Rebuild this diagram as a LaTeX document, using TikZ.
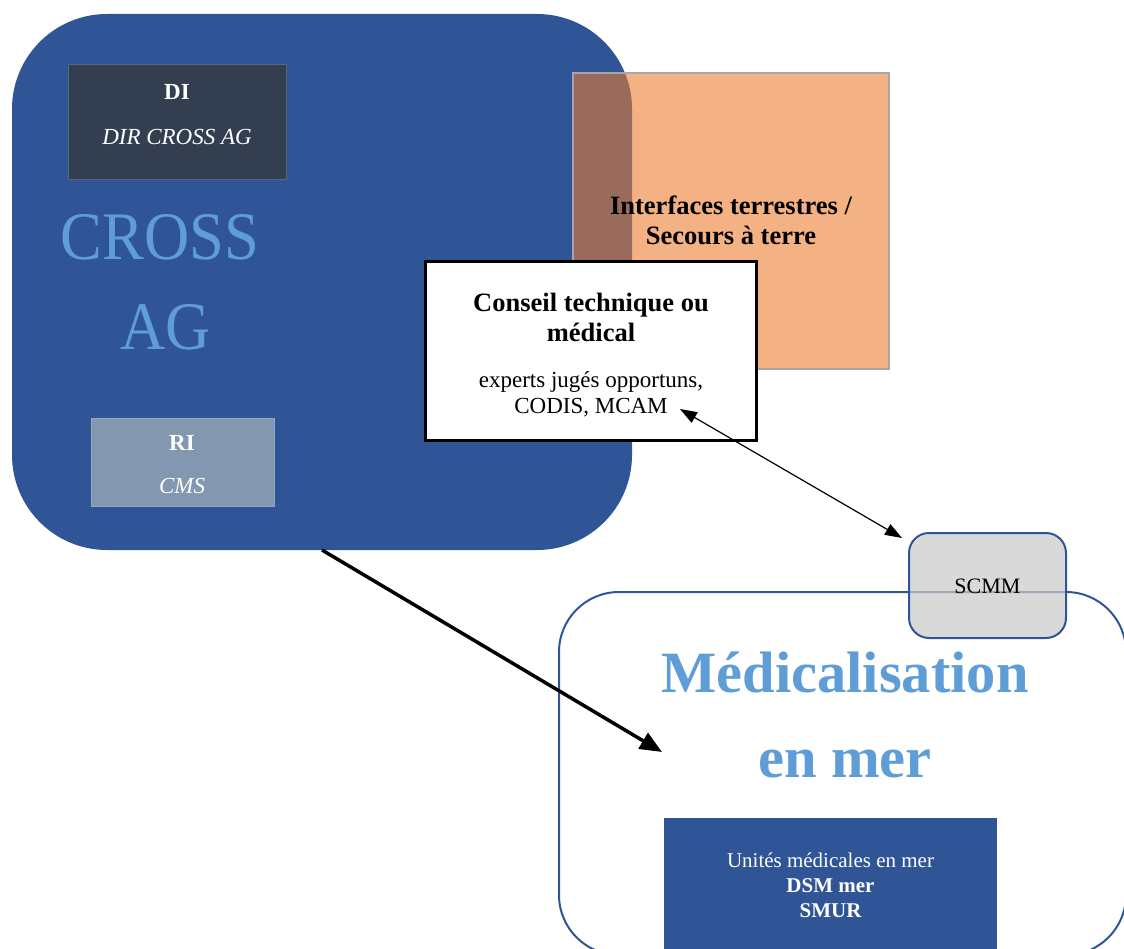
\documentclass[tikz,border=0pt]{standalone}
\usepackage{fontspec}
\setmainfont{Liberation Serif}
\usetikzlibrary{arrows.meta}

\definecolor{crossblue}{HTML}{2F5597}
\definecolor{dislate}{HTML}{333F50}
\definecolor{rigray}{HTML}{8497B0}
\definecolor{terrorange}{HTML}{F4B183}
\definecolor{overlapbrown}{HTML}{9A6B5B}
\definecolor{framegray}{HTML}{A6A6A6}
\definecolor{titleblue}{HTML}{5F9DD6}
\definecolor{scmmgray}{HTML}{CACACA}

\newcommand{\fsz}[1]{\fontsize{#1pt}{1.2\dimexpr#1pt\relax}\selectfont}

\begin{document}
\begin{tikzpicture}[x=1pt,y=-1pt,
  blockbox/.style={inner sep=0pt, outer sep=0pt},
  txt/.style={anchor=base, inner sep=0pt},
  whitetxt/.style={txt, text=white},
  bigtitle/.style={txt, text=titleblue},
  linkarrow/.style={draw=black, line width=1.2pt,
    {Triangle[length=17pt,width=12pt]}-{Triangle[length=17pt,width=12pt]}},
  flowarrow/.style={draw=black, line width=3.5pt,
    -{Triangle[length=22pt,width=18pt]}}]

\useasboundingbox (0,0) rectangle (1124,949);

% CROSS AG block
\node[blockbox, fill=crossblue, rounded corners=95pt,
      minimum width=620pt, minimum height=536pt] (cross) at (322,282) {};
\node[blockbox, fill=dislate, draw=dislate!80!white, line width=0.8pt,
      minimum width=218pt, minimum height=115pt] (di) at (177,121.5) {};
\node[whitetxt] (ditxt) at (177,100) {\fsz{23}\bfseries DI};
\node[whitetxt] (dirtxt) at (177,145) {\fsz{23}\itshape DIR CROSS AG};
\node[bigtitle] (crosstxt) at (160,260) {\fsz{68}\scalebox{0.92}[1]{CROSS}};
\node[bigtitle] (agtxt) at (166,349) {\fsz{68}\scalebox{0.92}[1]{AG}};
\node[blockbox, fill=rigray, draw=rigray!85!white, line width=0.8pt,
      minimum width=183pt, minimum height=88pt] (ri) at (182.5,462) {};
\node[whitetxt] (ritxt) at (182,450) {\fsz{23}\bfseries RI};
\node[whitetxt] (cmstxt) at (182,493) {\fsz{23}\itshape CMS};

% land interfaces block, overlapping the CROSS block
\node[blockbox, fill=terrorange,
      minimum width=316pt, minimum height=296pt] (terre) at (731,221) {};
\begin{scope}
  \clip[rounded corners=95pt] (cross.north west) rectangle (cross.south east);
  \fill[overlapbrown] (terre.north west) rectangle (terre.south east);
\end{scope}
\draw[framegray, line width=2pt] (terre.north west) rectangle (terre.south east);
\node[txt] (terretxta) at (731,215) {\fsz{26.5}\bfseries Interfaces terrestres /};
\node[txt] (terretxtb) at (731,245) {\fsz{26.5}\bfseries Secours à terre};

% technical or medical advice
\node[blockbox, fill=white, draw=black, line width=3pt,
      minimum width=331pt, minimum height=179pt] (conseil) at (591,351) {};
\node[txt] (conseila) at (591,312) {\fsz{26.5}\bfseries Conseil technique ou};
\node[txt] (conseilb) at (591,342) {\fsz{26.5}\bfseries médical};
\node[txt] (conseilc) at (591,387) {\fsz{23}experts jugés opportuns,};
\node[txt] (conseild) at (591,413) {\fsz{23}CODIS, MCAM};
\coordinate (mcam) at (680,409);

% medicalisation at sea
\draw[crossblue, line width=2pt, rounded corners=60pt]
  (559,592) rectangle (1126,955);
\coordinate (medin) at (662,752);
\node[bigtitle] (medtxta) at (845,692) {\fsz{58.5}\bfseries Médicalisation};
\node[bigtitle] (medtxtb) at (845,777) {\fsz{58.5}\bfseries en mer};
\node[blockbox, fill=crossblue,
      minimum width=333pt, minimum height=142pt] (units) at (830.5,889) {};
\node[whitetxt] (unitsa) at (830.5,867) {\fsz{21}Unités médicales en mer};
\node[whitetxt] (unitsb) at (830.5,892) {\fsz{21}\bfseries DSM mer};
\node[whitetxt] (unitsc) at (830.5,917) {\fsz{21}\bfseries SMUR};

% SCMM, lying over the top edge of the sea block
\node[blockbox, fill=scmmgray, fill opacity=0.72, draw=crossblue, line width=2pt,
      rounded corners=20pt, minimum width=157pt, minimum height=105pt]
      (scmm) at (987.5,585.5) {};
\node[txt] (scmmtxt) at (987.5,593) {\fsz{22}SCMM};

% connectors
\coordinate (scmmin) at (902,538);
\draw[linkarrow] (mcam) -- (scmmin);
\draw[flowarrow] (cross.south) -- (medin);

\end{tikzpicture}
\end{document}
